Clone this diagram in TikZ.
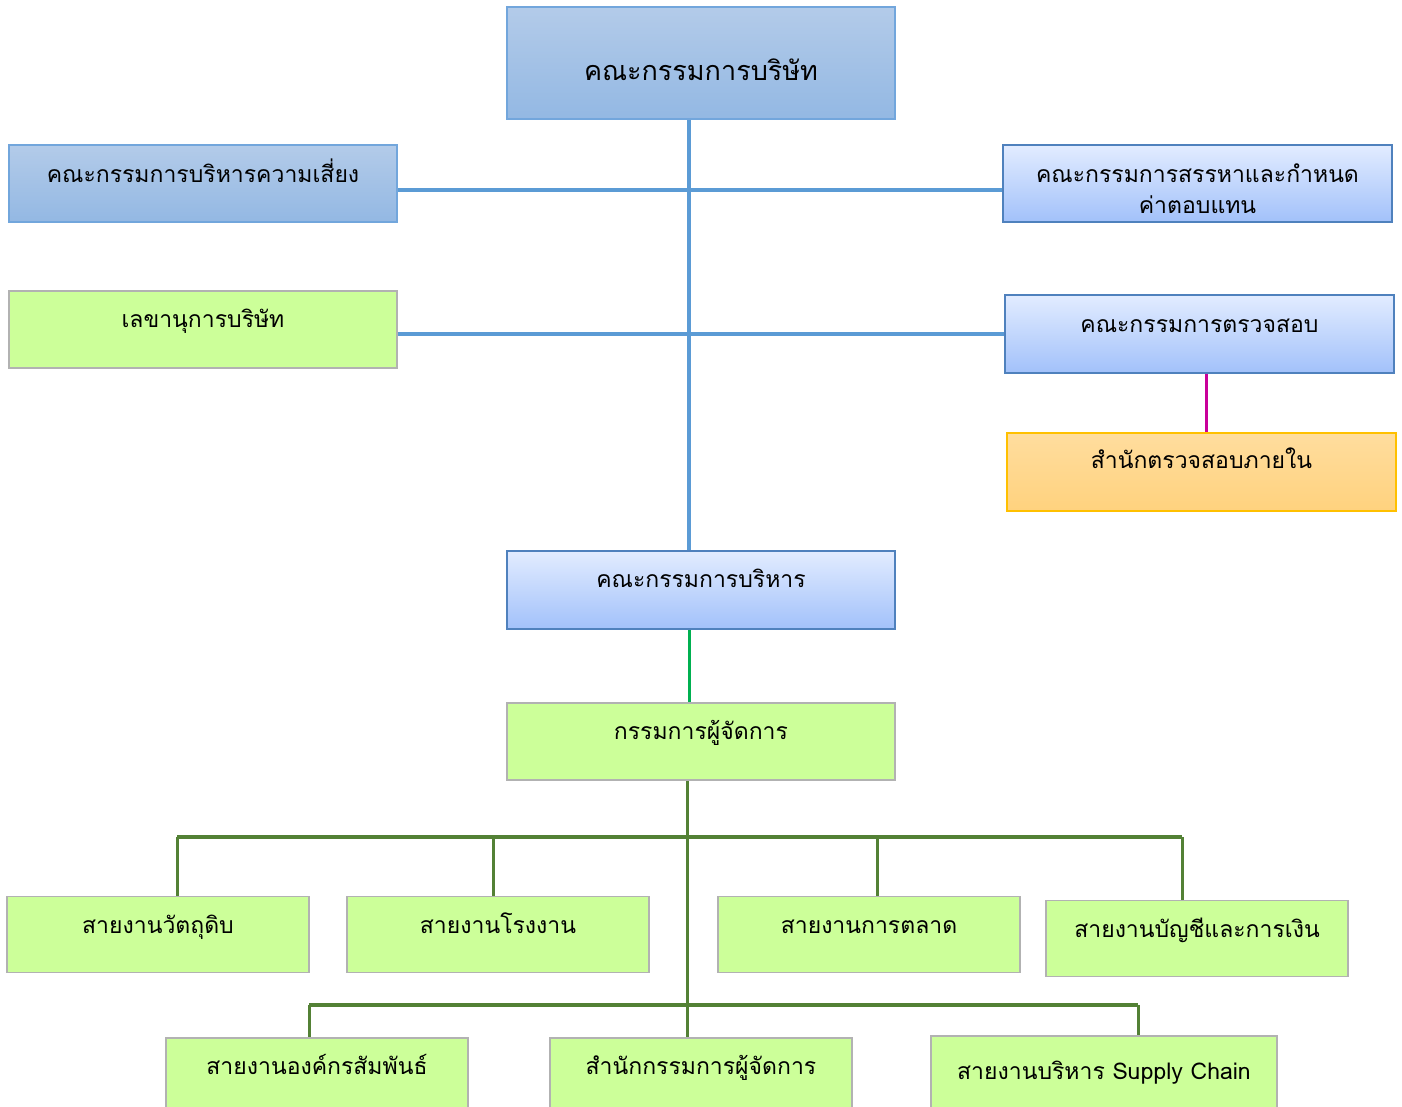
\documentclass[tikz,border=0pt]{standalone}
\usepackage{fontspec}
\newfontfamily\thaifont[Script=Thai]{Loma}
\definecolor{bdtop}{HTML}{B3CBE9}
\definecolor{bdbot}{HTML}{93B8E3}
\definecolor{bdborder}{HTML}{72A6DC}
\definecolor{bltop}{HTML}{E2ECFF}
\definecolor{blbot}{HTML}{A2C1FA}
\definecolor{blborder}{HTML}{4F81BD}
\definecolor{grfill}{HTML}{CCFF99}
\definecolor{grborder}{HTML}{B2B2B2}
\definecolor{ortop}{HTML}{FFDD9E}
\definecolor{orbot}{HTML}{FFD27E}
\definecolor{orborder}{HTML}{FFC000}
\definecolor{lblue}{HTML}{5B9BD5}
\definecolor{lmag}{HTML}{C9009A}
\definecolor{lgreen}{HTML}{00B050}
\definecolor{lolive}{HTML}{538135}
\tikzset{
  box/.style={rectangle, inner sep=0pt, line width=1.5pt},
  bluedark/.style={box, draw=bdborder, top color=bdtop, bottom color=bdbot},
  bluelight/.style={box, draw=blborder, top color=bltop, bottom color=blbot},
  greenbox/.style={box, draw=grborder, fill=grfill},
  orangebox/.style={box, draw=orborder, top color=ortop, bottom color=orbot},
  wide/.style={minimum width=388pt, minimum height=77pt},
  narrow/.style={minimum width=302pt, minimum height=76pt},
  txt/.style={font=\thaifont\fontsize{23}{30}\selectfont, anchor=base, inner sep=0pt, text=black},
  bigtxt/.style={font=\thaifont\fontsize{27}{32}\selectfont, anchor=base, inner sep=0pt, text=black},
  blueline/.style={draw=lblue, line width=3.5pt},
  magline/.style={draw=lmag, line width=3pt},
  greenline/.style={draw=lgreen, line width=3pt},
  oliveline/.style={draw=lolive, line width=3pt},
  olivebar/.style={draw=lolive, line width=4pt},
}
\begin{document}
\begin{tikzpicture}[x=1pt,y=-1pt]
\useasboundingbox (0,0) rectangle (1402,1106);
\clip (0,0) rectangle (1402,1106);
% boxes
\node[bluedark, minimum width=388pt, minimum height=112pt] (board) at (701,63) {};
\node[bluedark, wide] (risk) at (203,183.5) {};
\node[greenbox, wide] (sec) at (203,329.5) {};
\node[bluelight, minimum width=389pt, minimum height=77pt] (nomin) at (1197.5,183.5) {};
\node[bluelight, minimum width=389pt, minimum height=78pt] (audit) at (1199.5,334) {};
\node[orangebox, minimum width=389pt, minimum height=78pt] (internal) at (1201.5,472) {};
\node[bluelight, minimum width=388pt, minimum height=78pt] (exec) at (701,590) {};
\node[greenbox, wide] (md) at (701,741.5) {};
\node[greenbox, narrow] (raw) at (158,934.5) {};
\node[greenbox, narrow] (plant) at (498,934.5) {};
\node[greenbox, narrow] (mkt) at (869,934.5) {};
\node[greenbox, narrow] (fin) at (1197,938.5) {};
\node[greenbox, minimum width=302pt, minimum height=80pt] (cr) at (317,1078) {};
\node[greenbox, minimum width=302pt, minimum height=80pt] (mdo) at (701,1078) {};
\node[greenbox, minimum width=346pt, minimum height=82pt] (scm) at (1104,1077) {};
% texts
\node[bigtxt] (tboard) at (701,80) {คณะกรรมการบริษัท};
\node[txt] (trisk) at (203,182) {คณะกรรมการบริหารความเสี่ยง};
\node[txt] (tsec) at (203,327) {เลขานุการบริษัท};
\node[txt] (tnomin1) at (1197.5,182) {คณะกรรมการสรรหาและกำหนด};
\node[txt] (tnomin2) at (1197.5,213) {ค่าตอบแทน};
\node[txt] (taudit) at (1199.5,332) {คณะกรรมการตรวจสอบ};
\node[txt] (tinternal) at (1201.5,468) {สำนักตรวจสอบภายใน};
\node[txt] (texec) at (701,587) {คณะกรรมการบริหาร};
\node[txt] (tmd) at (701,739) {กรรมการผู้จัดการ};
\node[txt] (traw) at (158,933) {สายงานวัตถุดิบ};
\node[txt] (tplant) at (498,933) {สายงานโรงงาน};
\node[txt] (tmkt) at (869,933) {สายงานการตลาด};
\node[txt] (tfin) at (1197,937) {สายงานบัญชีและการเงิน};
\node[txt] (tcr) at (317,1074) {สายงานองค์กรสัมพันธ์};
\node[txt] (tmdo) at (701,1074) {สำนักกรรมการผู้จัดการ};
\node[txt] (tscm) at (1104,1079) {สายงานบริหาร Supply Chain};
% junctions
\coordinate (jb1) at (689,190);
\coordinate (jb2) at (689,334);
\coordinate (jm) at (1206,400);
\coordinate (jo1) at (687,837);
\coordinate (jo2) at (687,1005);
\coordinate (d1) at (177,837);
\coordinate (d2) at (493,837);
\coordinate (d3) at (877,837);
\coordinate (d4) at (1182,837);
\coordinate (e1) at (309,1005);
\coordinate (e3) at (1138,1005);
% connectors (behind boxes would be fine; drawn after)
\draw[blueline] (jb1 |- board.south) -- (jb1 |- exec.north);
\draw[blueline] (risk.east |- jb1) -- (nomin.west |- jb1);
\draw[blueline] (sec.east |- jb2) -- (audit.west |- jb2);
\draw[magline] (jm |- audit.south) -- (jm |- internal.north);
\draw[greenline] (jb1 |- exec.south) -- (jb1 |- md.north);
\draw[oliveline] (jo1 |- md.south) -- (jo1 |- mdo.north);
\draw[olivebar] (d1) -- (d4);
\draw[oliveline] (d1) -- (d1 |- raw.north);
\draw[oliveline] (d2) -- (d2 |- plant.north);
\draw[oliveline] (d3) -- (d3 |- mkt.north);
\draw[oliveline] (d4) -- (d4 |- fin.north);
\draw[olivebar] (e1) -- (e3);
\draw[oliveline] (e1) -- (e1 |- cr.north);
\draw[oliveline] (e3) -- (e3 |- scm.north);
\end{tikzpicture}
\end{document}
